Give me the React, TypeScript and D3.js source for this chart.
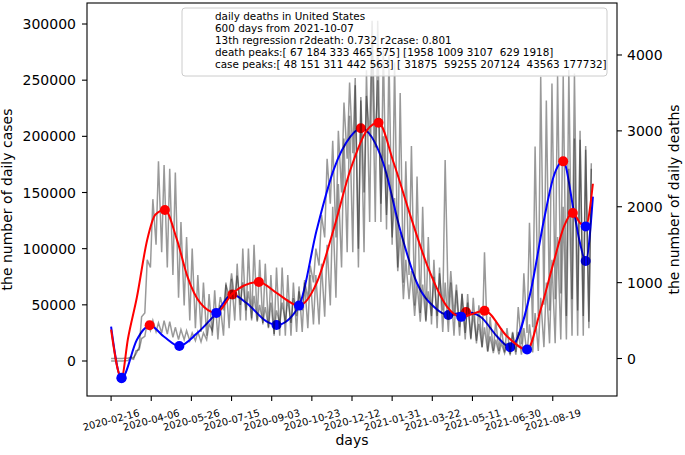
import React, { useEffect, useRef } from 'react';
import * as d3 from 'd3';

// x tick labels, every 50 days from day 0
const tickDays = [0, 50, 100, 150, 200, 250, 300, 350, 400, 450, 500, 550];
const tickDates = [
  '2020-02-16', '2020-04-06', '2020-05-26', '2020-07-15', '2020-09-03', '2020-10-23',
  '2020-12-12', '2021-01-31', '2021-03-22', '2021-05-11', '2021-06-30', '2021-08-19'
];
const caseTicks = [0, 50000, 100000, 150000, 200000, 250000, 300000];
const deathTicks = [0, 1000, 2000, 3000, 4000];

// weekly high / low of the raw daily numbers (86 weeks)
const caseHi = [
  0, 10, 300, 2500, 9000, 20000, 34000, 36000, 34000, 36000, 35000, 30000, 28000, 27000, 25000, 26000,
  25000, 33000, 45000, 57000, 68000, 78000, 76000, 70000, 62000, 58000, 50000, 48000, 52000, 45000, 52000, 55000,
  56000, 62000, 72000, 85000, 100000, 130000, 180000, 196000, 205000, 230000, 248000, 252000, 235000, 236000, 302800, 250000,
  200000, 175000, 145000, 115000, 90000, 80000, 70000, 68000, 62000, 75000, 78000, 179000, 80000, 68000, 60000, 52000,
  42000, 33000, 30000, 22000, 19000, 16000, 16000, 25000, 48000, 78000, 123000, 191000, 253000, 232000, 247000, 254000,
  254000, 259000, 256000, 197000, 188000, 176000
];
const caseLo = [
  0, 0, 50, 400, 1500, 10000, 22000, 27000, 26000, 25000, 24000, 21000, 19000, 19000, 18000, 18000,
  17000, 19000, 27000, 40000, 45000, 58000, 55000, 50000, 45000, 38000, 35000, 34000, 30000, 24000, 33000, 35000,
  34000, 40000, 45000, 55000, 70000, 85000, 110000, 140000, 110000, 150000, 180000, 185000, 100000, 150000, 200000, 190000,
  140000, 130000, 110000, 80000, 55000, 55000, 40000, 35000, 35000, 40000, 40000, 45000, 45000, 40000, 30000, 25000,
  20000, 18000, 12000, 8000, 7000, 6000, 7000, 5000, 8000, 15000, 25000, 30000, 40000, 50000, 45000, 55000,
  60000, 40000, 55000, 45000, 40000, 35000
];
const deathHi = [
  0, 1, 5, 15, 60, 550, 1300, 2100, 2600, 2550, 2500, 2450, 1800, 1600, 1450, 1100,
  1000, 850, 900, 700, 1000, 1050, 1250, 1450, 1450, 1500, 1300, 1250, 1100, 1200, 1200, 1100,
  1000, 950, 1000, 1100, 1100, 1250, 1500, 2000, 2300, 2900, 3200, 3600, 3400, 3800, 4150, 4450,
  4100, 4000, 3900, 3500, 2600, 2800, 2400, 2000, 1600, 1300, 1200, 1000, 1000, 900, 850, 850,
  800, 700, 1400, 550, 500, 400, 400, 350, 350, 400, 450, 600, 800, 1000, 1300, 1600,
  2000, 2500, 2900, 3000, 2800, 2500
];
const deathLo = [
  0, 0, 0, 3, 10, 150, 600, 1200, 1500, 1400, 1200, 1100, 800, 700, 500, 400,
  350, 300, 300, 250, 300, 400, 500, 500, 500, 500, 500, 450, 400, 300, 300, 300,
  300, 350, 350, 400, 450, 450, 550, 700, 800, 1200, 1400, 1400, 1200, 1400, 1800, 1800,
  1800, 1700, 1500, 1200, 1000, 1100, 700, 600, 500, 450, 400, 350, 350, 300, 300, 250,
  250, 200, 150, 100, 100, 100, 80, 60, 50, 50, 60, 80, 100, 150, 200, 200,
  250, 250, 300, 300, 300, 400
];

// 13th degree regression curves read as [day, value] knots
const caseFit: [number, number][] = [
  [0, 30500], [13, -15400], [32, 18700], [40, 27600], [48, 31875], [66, 21600], [85, 13350], [107, 24600],
  [131, 42500], [151, 59255], [169, 51400], [194, 35000], [206, 32000], [234, 49000], [256, 116600], [277, 170000],
  [298, 199700], [311, 207124], [339, 176000], [360, 116600], [381, 69200], [402, 48300], [420, 40900], [442, 43563],
  [460, 39400], [481, 21600], [497, 12200], [522, 60300], [539, 125500], [551, 164000], [563, 177732], [576, 134400],
  [584, 104800], [591, 89000], [600, 146300]
];
const deathFit: [number, number][] = [
  [0, 380], [13, -254], [21, 260], [32, 800], [45, 1566], [55, 1895], [67, 1958], [82, 1566],
  [95, 1083], [111, 733], [131, 601], [151, 855], [184, 1009], [206, 864], [234, 697], [256, 996],
  [277, 1698], [298, 2487], [319, 3014], [333, 3107], [352, 2576], [373, 1873], [395, 1190], [418, 688],
  [436, 549], [465, 629], [493, 293], [518, 118], [535, 645], [552, 1303], [564, 1741], [575, 1918],
  [584, 1786], [591, 1741], [600, 2303]
];

const casePeakDays = [48, 151, 311, 442, 563];
const casePeakValues = [31875, 59255, 207124, 43563, 177732];
const caseTroughDays = [13, 85, 206, 420, 497, 591];
const caseTroughValues = [-15400, 13350, 32000, 40900, 12200, 89000];
const deathPeakDays = [67, 184, 333, 465, 575];
const deathPeakValues = [1958, 1009, 3107, 629, 1918];
const deathTroughDays = [13, 131, 234, 436, 518, 591];
const deathTroughValues = [-254, 601, 697, 549, 118, 1741];

const legendLines = [
  'daily deaths in United States',
  '600 days from 2021-10-07',
  '13th regression r2death: 0.732 r2case: 0.801',
  'death peaks:[ 67 184 333 465 575] [1958 1009 3107  629 1918]',
  'case peaks:[ 48 151 311 442 563] [ 31875  59255 207124  43563 177732]'
];

const W = 685;
const H = 455;
const FONT = '"DejaVu Sans", sans-serif';

const App: React.FC = () => {
  const svgRef = useRef<SVGSVGElement>(null);

  useEffect(() => {
    if (!svgRef.current) return;
    const svg = d3.select(svgRef.current);
    svg.selectAll('*').remove();

    const left = 87, right = 617, top = 3, bottom = 396;

    const x = d3.scaleLinear().domain([-30, 630]).range([left, right]);
    const yCase = d3.scaleLinear().domain([-31160, 318700]).range([bottom, top]);
    const yDeath = d3.scaleLinear().domain([-494, 4685]).range([bottom, top]);

    // weekly low on day 0 of the week, weekday high on day 3
    const toDaily = (lo: number[], hi: number[]) => {
      const pts: [number, number][] = [];
      lo.forEach((v, w) => {
        pts.push([w * 7, v]);
        pts.push([w * 7 + 3, hi[w]]);
      });
      return pts.filter(p => p[0] <= 600);
    };

    svg.append('defs').append('clipPath').attr('id', 'plot-clip')
      .append('rect')
      .attr('x', left).attr('y', top)
      .attr('width', right - left).attr('height', bottom - top);

    const plot = svg.append('g').attr('clip-path', 'url(#plot-clip)');

    const rawLine = (yS: d3.ScaleLinear<number, number>) =>
      d3.line<[number, number]>().x(d => x(d[0])).y(d => yS(d[1]));
    const fitLine = (yS: d3.ScaleLinear<number, number>) =>
      d3.line<[number, number]>().x(d => x(d[0])).y(d => yS(d[1])).curve(d3.curveMonotoneX);

    const dots = (days: number[], vals: number[], yS: d3.ScaleLinear<number, number>, color: string) => {
      plot.append('g').selectAll('circle')
        .data(days.map((d, i) => [d, vals[i]]))
        .enter()
        .append('circle')
        .attr('cx', d => x(d[0]))
        .attr('cy', d => yS(d[1]))
        .attr('r', 5)
        .style('fill', color);
    };

    // cases axis
    plot.append('path')
      .attr('d', rawLine(yCase)(toDaily(caseLo, caseHi)))
      .style('fill', 'none')
      .style('stroke', '#000')
      .style('stroke-opacity', 0.4)
      .style('stroke-width', 1.5);
    plot.append('path')
      .attr('d', fitLine(yCase)(caseFit))
      .style('fill', 'none')
      .style('stroke', '#0000ff')
      .style('stroke-width', 2);
    dots(casePeakDays, casePeakValues, yCase, '#ff0000');
    dots(caseTroughDays, caseTroughValues, yCase, '#0000ff');

    // deaths axis (drawn on top)
    plot.append('path')
      .attr('d', rawLine(yDeath)(toDaily(deathLo, deathHi)))
      .style('fill', 'none')
      .style('stroke', '#000')
      .style('stroke-opacity', 0.4)
      .style('stroke-width', 1.5);
    plot.append('path')
      .attr('d', fitLine(yDeath)(deathFit))
      .style('fill', 'none')
      .style('stroke', '#ff0000')
      .style('stroke-width', 2);
    dots(deathPeakDays, deathPeakValues, yDeath, '#ff0000');
    dots(deathTroughDays, deathTroughValues, yDeath, '#0000ff');

    // legend
    const lg = svg.append('g');
    lg.append('rect')
      .attr('x', 182).attr('y', 8)
      .attr('width', 425).attr('height', 68)
      .attr('rx', 3)
      .style('fill', '#fff')
      .style('fill-opacity', 0.8)
      .style('stroke', '#cccccc')
      .style('stroke-width', 1);
    lg.selectAll('text')
      .data(legendLines)
      .enter()
      .append('text')
      .attr('x', 215)
      .attr('y', (_, i) => 20 + i * 12.1)
      .style('font-family', FONT)
      .style('font-size', '10.4px')
      .style('white-space', 'pre')
      .attr('xml:space', 'preserve')
      .text(d => d);

    // frame
    svg.append('rect')
      .attr('x', left).attr('y', top)
      .attr('width', right - left).attr('height', bottom - top)
      .style('fill', 'none')
      .style('stroke', '#000')
      .style('stroke-width', 1.1);

    // left axis
    const la = svg.append('g');
    caseTicks.forEach(t => {
      const yy = yCase(t);
      la.append('line').attr('x1', left - 5).attr('x2', left).attr('y1', yy).attr('y2', yy)
        .style('stroke', '#000').style('stroke-width', 1.1);
      la.append('text').attr('x', left - 11).attr('y', yy).attr('dy', '0.36em')
        .attr('text-anchor', 'end')
        .style('font-family', FONT).style('font-size', '14px')
        .text(String(t));
    });

    // right axis
    const ra = svg.append('g');
    deathTicks.forEach(t => {
      const yy = yDeath(t);
      ra.append('line').attr('x1', right).attr('x2', right + 5).attr('y1', yy).attr('y2', yy)
        .style('stroke', '#000').style('stroke-width', 1.1);
      ra.append('text').attr('x', right + 10).attr('y', yy).attr('dy', '0.36em')
        .style('font-family', FONT).style('font-size', '14px')
        .text(String(t));
    });

    // bottom axis
    const ba = svg.append('g');
    tickDays.forEach((t, i) => {
      const xx = x(t);
      ba.append('line').attr('x1', xx).attr('x2', xx).attr('y1', bottom).attr('y2', bottom + 5)
        .style('stroke', '#000').style('stroke-width', 1.1);
      ba.append('text')
        .attr('transform', `translate(${xx},${420}) rotate(-15)`)
        .attr('text-anchor', 'middle')
        .attr('dy', '0.35em')
        .style('font-family', FONT).style('font-size', '10px')
        .text(tickDates[i]);
    });

    // axis titles
    svg.append('text')
      .attr('x', (left + right) / 2).attr('y', 445)
      .attr('text-anchor', 'middle')
      .style('font-family', FONT).style('font-size', '14px')
      .text('days');
    svg.append('text')
      .attr('transform', `translate(11.5,${(top + bottom) / 2}) rotate(-90)`)
      .attr('text-anchor', 'middle')
      .style('font-family', FONT).style('font-size', '14px')
      .text('the number of daily cases');
    svg.append('text')
      .attr('transform', `translate(678.5,${(top + bottom) / 2}) rotate(-90)`)
      .attr('text-anchor', 'middle')
      .style('font-family', FONT).style('font-size', '14px')
      .text('the number of daily deaths');
  }, []);

  return (
    <svg
      ref={svgRef}
      width={W}
      height={H}
      style={{ position: 'absolute', left: 0, top: 0, background: '#fff' }}
    />
  );
};

export default App;
